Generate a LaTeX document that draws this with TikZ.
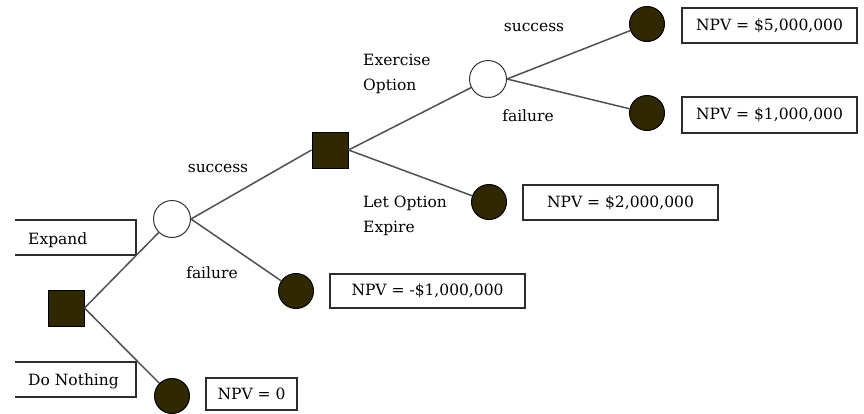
\documentclass[tikz,border=0pt]{standalone}
\usepackage{fontspec}
\setmainfont{DejaVu Serif}
\usetikzlibrary{positioning}
\definecolor{cOlive}{RGB}{48,40,0}
\definecolor{cLine}{RGB}{80,80,80}
\definecolor{cEdge}{RGB}{45,45,45}
\tikzset{
  basetxt/.style={font=\fontsize{15.5}{25}\selectfont,inner sep=0pt,text=black},
  decnode/.style={rectangle,draw=black,fill=cOlive,minimum size=36pt,
                  inner sep=0pt,line width=1pt},
  chancenode/.style={circle,draw=black!80,fill=white,minimum size=37pt,
                     inner sep=0pt,line width=1pt},
  endnode/.style={circle,draw=black,fill=cOlive,minimum size=35pt,
                  inner sep=0pt,line width=1pt},
  valbox/.style={basetxt,rectangle,draw=cEdge,line width=1.5pt},
  openbox/.style={draw=cEdge,line width=1.5pt},
  lbl/.style={basetxt,align=left},
  branch/.style={draw=cLine,line width=1.5pt}
}

\begin{document}
\begin{tikzpicture}[x=1pt,y=-1pt]
  \useasboundingbox (0,0) rectangle (864,413);

  % choice labels on the left
  \draw[openbox] (15,220) -- (136,220) -- (136,255) -- (15,255);
  \draw[openbox] (15,362) -- (136,362) -- (136,397) -- (15,397);
  \node[lbl,anchor=west] (expand) at (28,240) {Expand};
  \node[lbl,anchor=west] (nothing) at (28,381) {Do Nothing};

  % decision, chance and end nodes
  \node[decnode]    (d0) at (66,308) {};
  \node[chancenode] (c1) at (172,219) {};
  \node[endnode]    (e0) at (172,396) {};
  \node[decnode]    (d1) at (330,150) {};
  \node[endnode]    (e1) at (296,291) {};
  \node[chancenode] (c2) at (488,79) {};
  \node[endnode]    (e2) at (489,202) {};
  \node[endnode]    (e3) at (647,24) {};
  \node[endnode]    (e4) at (647,113) {};

  % branches
  \draw[branch] (d0.east) -- (c1);
  \draw[branch] (d0.east) -- (e0);
  \draw[branch] (c1.east) -- (d1.west);
  \draw[branch] (c1.east) -- (e1);
  \draw[branch] (d1.east) -- (c2);
  \draw[branch] (d1.east) -- (e2);
  \draw[branch] (c2.east) -- (e3);
  \draw[branch] (c2.east) -- (e4);

  % branch labels
  \node[lbl] (s1) at (218,168) {success};
  \node[lbl] (f1) at (212,273) {failure};
  \node[lbl,anchor=west] (exer) at (363,74) {Exercise\\Option};
  \node[lbl,anchor=west] (expire) at (363,216) {Let Option\\Expire};
  \node[lbl] (s2) at (534,27) {success};
  \node[lbl] (f2) at (528,116) {failure};

  % payoffs
  \node[valbox,minimum width=91pt,minimum height=32pt]  (v0) at (251.5,394) {NPV = 0};
  \node[valbox,minimum width=195pt,minimum height=34pt] (v1) at (427.5,291) {NPV = -\$1,000,000};
  \node[valbox,minimum width=195pt,minimum height=35pt] (v2) at (620.5,202.5) {NPV = \$2,000,000};
  \node[valbox,minimum width=175pt,minimum height=35pt] (v3) at (769.5,25.5) {NPV = \$5,000,000};
  \node[valbox,minimum width=175pt,minimum height=36pt] (v4) at (769.5,115) {NPV = \$1,000,000};
\end{tikzpicture}
\end{document}
